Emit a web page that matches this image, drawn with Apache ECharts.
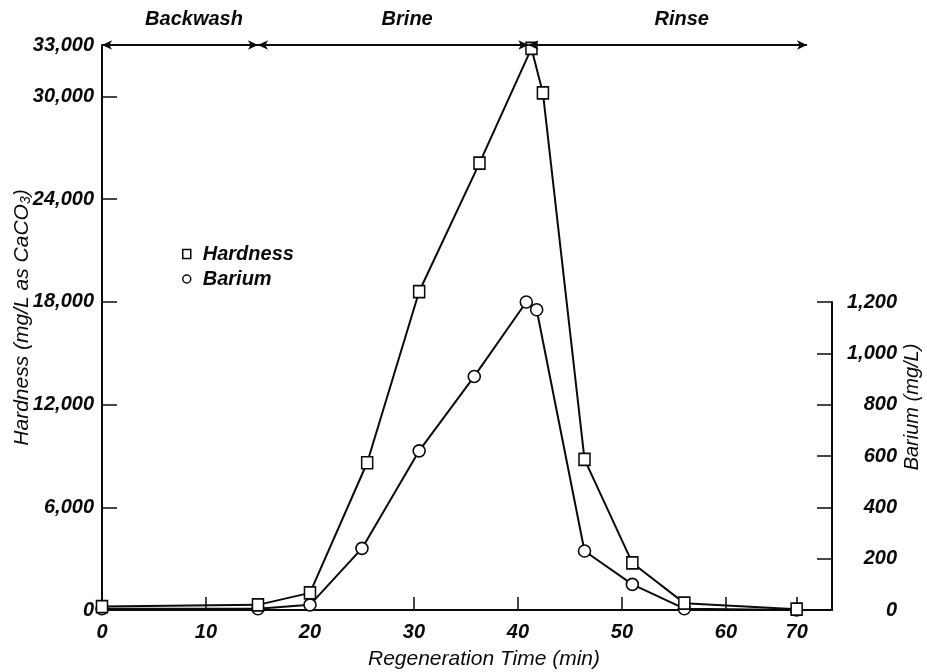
<!DOCTYPE html>
<html>
<head>
<meta charset="utf-8">
<script src="https://cdn.jsdelivr.net/npm/echarts@6/dist/echarts.min.js"></script>
<style>
  html, body { margin: 0; padding: 0; background: #ffffff; }
  #chart { width: 927px; height: 672px; }
</style>
</head>
<body>
<div id="chart"></div>
<script>
// Regeneration profile of an ion-exchange column: hardness and barium in the spent regenerant
const hardnessTime   = [0, 15, 20, 25.5, 30.5, 36.3, 41.3, 42.4, 46.4, 51, 56, 70];
const hardnessValues = [200, 300, 1000, 8600, 18600, 26100, 32800, 30200, 8800, 2750, 400, 50];
const bariumTime     = [0, 15, 20, 25, 30.5, 35.8, 40.8, 41.8, 46.4, 51, 56, 70];
const bariumValues   = [5, 5, 20, 240, 620, 910, 1200, 1170, 230, 100, 5, 0];

const timeTicks     = [0, 10, 20, 30, 40, 50, 60, 70];
const hardnessTicks = [0, 6000, 12000, 18000, 24000, 30000, 33000];
const bariumTicks   = [0, 200, 400, 600, 800, 1000, 1200];

// Regeneration phases drawn along the top of the plot
const phaseNames = ['Backwash', 'Brine', 'Rinse'];
const phaseStart = [0, 15, 41];
const phaseEnd   = [15, 41, 71];

const FONT = '"Liberation Sans", Arial, sans-serif';
const INK = '#0a0a0a';
const labelFont = { fontFamily: FONT, fontStyle: 'italic', fontWeight: 'bold', fontSize: 20, color: INK };
const titleFont = { fontFamily: FONT, fontStyle: 'italic', fontWeight: 'normal', fontSize: 21, color: INK };

const pair = (xs, ys) => xs.map((x, i) => [x, ys[i]]);
const fmt = v => Number(v).toLocaleString('en-US');

// the time axis is compressed between 60 and 70 min
const timeBreak = [{ start: 62, end: 65.2, gap: 0 }];

function timeAxis(gridIndex, visible) {
  return {
    type: 'value',
    gridIndex: gridIndex,
    min: 0,
    max: 73.4,
    breaks: timeBreak,
    breakArea: { show: false },
    show: visible,
    name: visible ? 'Regeneration Time (min)' : '',
    nameLocation: 'middle',
    nameGap: 39,
    nameTextStyle: Object.assign({}, titleFont, { padding: [0, 0, 0, 34] }),
    axisLine: { show: visible, onZero: false, lineStyle: { color: INK, width: 2 } },
    axisTick: { show: visible, inside: true, length: 13, customValues: timeTicks, lineStyle: { color: INK, width: 1.5 } },
    axisLabel: Object.assign({ show: visible, margin: 12, customValues: timeTicks, formatter: v => String(v) }, labelFont),
    splitLine: { show: false }
  };
}

const phaseLines = phaseNames.map((n, i) => [
  { coord: [phaseStart[i], 33000], name: n },
  { coord: [phaseEnd[i], 33000] }
]);

const option = {
  animation: false,
  backgroundColor: '#ffffff',
  grid: [
    { left: 102, right: 95, top: 45, bottom: 62, containLabel: false, outerBoundsMode: 'none' },
    { left: 102, right: 95, top: 302, bottom: 62, containLabel: false, outerBoundsMode: 'none' }
  ],
  xAxis: [timeAxis(0, true), timeAxis(1, false)],
  yAxis: [
    {
      type: 'value',
      gridIndex: 0,
      position: 'left',
      min: 0,
      max: 33000,
      name: 'Hardness (mg/L as CaCO{sub|3})',
      nameLocation: 'middle',
      nameRotate: 90,
      nameGap: 69,
      nameMoveOverlap: false,
      nameTextStyle: Object.assign({}, titleFont, {
        padding: [0, 0, 0, 20],
        rich: { sub: { fontFamily: FONT, fontStyle: 'italic', fontSize: 14, color: INK, padding: [8, 0, 0, 0] } }
      }),
      axisLine: { show: true, onZero: false, lineStyle: { color: INK, width: 2 } },
      axisTick: { show: true, inside: true, length: 15, customValues: hardnessTicks, lineStyle: { color: INK, width: 1.5 } },
      axisLabel: Object.assign({ margin: 8, customValues: hardnessTicks, formatter: fmt }, labelFont),
      splitLine: { show: false }
    },
    {
      type: 'value',
      gridIndex: 1,
      position: 'right',
      min: 0,
      max: 1200,
      name: 'Barium (mg/L)',
      nameLocation: 'middle',
      nameRotate: 90,
      nameGap: 70,
      nameMoveOverlap: false,
      nameTextStyle: Object.assign({}, titleFont, { fontSize: 20, padding: [0, 0, 0, 98] }),
      axisLine: { show: true, onZero: false, lineStyle: { color: INK, width: 2 } },
      axisTick: { show: true, inside: true, length: 15, customValues: bariumTicks, lineStyle: { color: INK, width: 1.5 } },
      axisLabel: Object.assign({ margin: 65, align: 'right', customValues: bariumTicks, formatter: fmt }, labelFont),
      splitLine: { show: false }
    }
  ],
  legend: {
    orient: 'vertical',
    left: 177,
    top: 239,
    itemWidth: 8,
    itemHeight: 9,
    itemGap: 5,
    textStyle: Object.assign({}, labelFont, { padding: [0, 0, 0, 7] }),
    itemStyle: { color: '#ffffff', borderColor: INK, borderWidth: 1.5 },
    data: [
      { name: 'Hardness', icon: 'rect' },
      { name: 'Barium', icon: 'circle' }
    ]
  },
  series: [
    {
      name: 'Hardness',
      type: 'line',
      xAxisIndex: 0,
      yAxisIndex: 0,
      data: pair(hardnessTime, hardnessValues),
      symbol: 'rect',
      symbolSize: [11, 12],
      lineStyle: { color: INK, width: 2 },
      itemStyle: { color: '#ffffff', borderColor: INK, borderWidth: 1.6 },
      z: 3,
      markLine: {
        silent: true,
        symbol: ['arrow', 'arrow'],
        symbolSize: [7, 10],
        lineStyle: { color: INK, width: 2, type: 'solid' },
        label: Object.assign({ show: true, position: 'insideMiddleTop', distance: 16, offset: [14, 0], formatter: p => p.name }, labelFont),
        data: phaseLines
      }
    },
    {
      name: 'Barium',
      type: 'line',
      xAxisIndex: 1,
      yAxisIndex: 1,
      data: pair(bariumTime, bariumValues),
      symbol: 'circle',
      symbolSize: 12,
      lineStyle: { color: INK, width: 2 },
      itemStyle: { color: '#ffffff', borderColor: INK, borderWidth: 1.6 },
      z: 2
    }
  ]
};

const chart = echarts.init(document.getElementById('chart'), null, { renderer: 'canvas' });
chart.setOption(option);
</script>
</body>
</html>
